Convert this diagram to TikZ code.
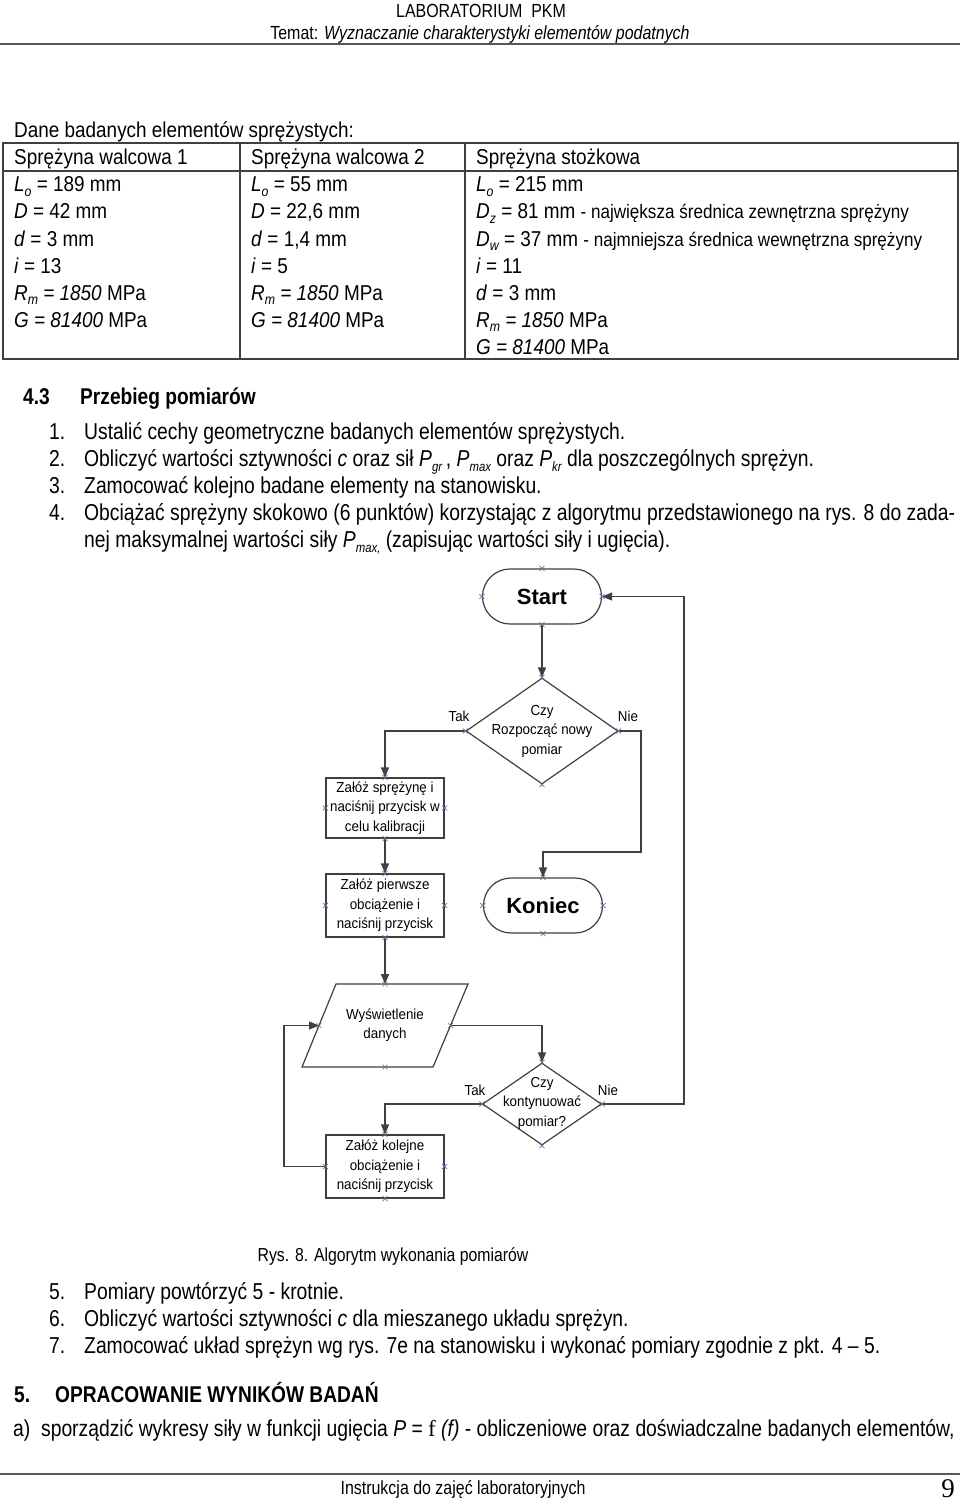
\documentclass[tikz,border=0pt]{standalone}
\usepackage{fontspec}
\setmainfont{Liberation Sans}
\newfontfamily\nar[FakeStretch=0.84]{Liberation Sans}
\newfontfamily\tabf[FakeStretch=0.88]{Liberation Sans}
\newfontfamily\fcf[FakeStretch=0.92]{Liberation Sans}
\newfontfamily\nine{Liberation Serif}
\usetikzlibrary{shapes.geometric,shapes.misc,arrows.meta,calc}
\definecolor{lc}{HTML}{404040}
\definecolor{xc}{HTML}{6A6AA8}
\newcommand\sbt[1]{\raisebox{-0.22em}{\fontsize{14}{14}\selectfont\itshape #1}}
\newcommand\sbs[1]{\raisebox{-0.22em}{\fontsize{13.5}{13.5}\selectfont\itshape #1}}
\newcommand\smf{\fontsize{19.4}{22}\selectfont}
\begin{document}
\begin{tikzpicture}[x=1pt,y=-1pt,
  T/.style={anchor=base west,inner sep=0pt,font=\tabf\fontsize{21.5}{26}\selectfont},
  L/.style={anchor=base west,inner sep=0pt,font=\nar\fontsize{23}{27}\selectfont},
  B/.style={anchor=base west,inner sep=0pt,font=\nar\bfseries\fontsize{22.8}{27}\selectfont},
  H/.style={anchor=base,inner sep=0pt,font=\nar\fontsize{19}{22}\selectfont},
  ln/.style={draw=lc,line width=1.3pt},
  fl/.style={draw=lc,line width=1.2pt},
  arr/.style={fl,-{Triangle[length=10pt,width=8pt]}},
  fct/.style={inner sep=0pt,align=center,font=\fcf\fontsize{14.5}{19.5}\selectfont},
  term/.style={fl,rounded rectangle,minimum width=119pt,minimum height=55pt,inner sep=0pt,font=\bfseries\fontsize{22}{26}\selectfont},
  box/.style={fl,rectangle,minimum width=118pt,inner sep=0pt,fct},
  dia/.style={fl,diamond,inner sep=0pt},
  xm/.pic={\draw[xc,line width=0.6pt] (-2.5,-2.5)--(2.5,2.5) (-2.5,2.5)--(2.5,-2.5);}
]
\useasboundingbox (0,0) rectangle (960,1500);
\fill[white] (0,0) rectangle (960,1500);

% header
\node[H] (h1) at (481,17) {LABORATORIUM\ \ PKM};
\node[H] (h2) at (480,39) {Temat: \textit{Wyznaczanie charakterystyki elementów podatnych}};
\draw[draw=gray!70!black,line width=2pt] (0,44) -- (960,44);

% table
\node[T] (dane) at (14,137) {Dane badanych elementów sprężystych:};
\draw[ln] (3,143) rectangle (958,359);
\draw[ln] (3,171) -- (958,171);
\draw[ln] (240,143) -- (240,359);
\draw[ln] (465,143) -- (465,359);

\node[T] (c1h) at (14,164) {Sprężyna walcowa 1};
\node[T] (c1a) at (14,191.5) {\textit{L}\sbt{o} = 189 mm};
\node[T] (c1b) at (14,218.7) {\textit{D} = 42 mm};
\node[T] (c1c) at (14,246) {\textit{d} = 3 mm};
\node[T] (c1d) at (14,273) {\textit{i} = 13};
\node[T] (c1e) at (14,300) {\textit{R}\sbt{m}\textit{ = 1850} MPa};
\node[T] (c1f) at (14,327) {\textit{G = 81400} MPa};

\node[T] (c2h) at (251,164) {Sprężyna walcowa 2};
\node[T] (c2a) at (251,191.5) {\textit{L}\sbt{o} = 55 mm};
\node[T] (c2b) at (251,218.7) {\textit{D} = 22,6 mm};
\node[T] (c2c) at (251,246) {\textit{d} = 1,4 mm};
\node[T] (c2d) at (251,273) {\textit{i} = 5};
\node[T] (c2e) at (251,300) {\textit{R}\sbt{m}\textit{ = 1850} MPa};
\node[T] (c2f) at (251,327) {\textit{G = 81400} MPa};

\node[T] (c3h) at (476,164) {Sprężyna stożkowa};
\node[T] (c3a) at (476,191.5) {\textit{L}\sbt{o} = 215 mm};
\node[T] (c3b) at (476,218.7) {\textit{D}\sbt{z} = 81 mm {\smf - największa średnica zewnętrzna sprężyny}};
\node[T] (c3c) at (476,246) {\textit{D}\sbt{w} = 37 mm {\smf - najmniejsza średnica wewnętrzna sprężyny}};
\node[T] (c3d) at (476,273) {\textit{i} = 11};
\node[T] (c3e) at (476,300) {\textit{d} = 3 mm};
\node[T] (c3f) at (476,327) {\textit{R}\sbt{m}\textit{ = 1850} MPa};
\node[T] (c3g) at (476,354) {\textit{G = 81400} MPa};

% section 4.3
\node[B] (s43n) at (23,404) {4.3};
\node[B] (s43) at (80,404) {Przebieg pomiarów};
\node[L] (n1) at (49,439) {1.};
\node[L] (t1) at (84,439) {Ustalić cechy geometryczne badanych elementów sprężystych.};
\node[L] (n2) at (49,466) {2.};
\node[L] (t2) at (84,466) {Obliczyć wartości sztywności \textit{c} oraz sił \textit{P}\sbs{gr}\,, \textit{P}\sbs{max} oraz \textit{P}\sbs{kr} dla poszczególnych sprężyn.};
\node[L] (n3) at (49,493) {3.};
\node[L] (t3) at (84,493) {Zamocować kolejno badane elementy na stanowisku.};
\node[L] (n4) at (49,520) {4.};
\node[L] (t4) at (84,520) {\makebox[871pt][s]{Obciążać sprężyny skokowo (6 punktów) korzystając z algorytmu przedstawionego na rys. 8 do zada-}};
\node[L] (t4b) at (84,547) {nej maksymalnej wartości siły \textit{P}\sbs{max,} (zapisując wartości siły i ugięcia).};

% flowchart
\node[term] (start) at (542,596.5) {Start};
\node[dia,minimum width=152pt,minimum height=106pt] (d1) at (542,731) {};
\node[fct] (d1t) at (542,731) {Czy\\Rozpocząć nowy\\pomiar};
\node[box,minimum height=60pt] (b1) at (385,808) {Załóż sprężynę i\\naciśnij przycisk w\\celu kalibracji};
\node[box,minimum height=63pt] (b2) at (385,905.5) {Załóż pierwsze\\obciążenie i\\naciśnij przycisk};
\node[term] (kon) at (543,905.5) {Koniec};
\node[fct] (par) at (385,1025) {Wyświetlenie\\danych};
\draw[fl] (336,984) -- (468,984) -- (433,1067) -- (302,1067) -- cycle;
\coordinate (parT) at (385,984);
\coordinate (parB) at (385,1067);
\coordinate (parL) at (319,1025.5);
\coordinate (parR) at (450.5,1025.5);
\node[dia,minimum width=119pt,minimum height=82pt] (d2) at (542,1104) {};
\node[fct] (d2t) at (542,1103) {Czy\\kontynuować\\pomiar?};
\node[box,minimum height=63pt] (b3) at (385,1166.5) {Załóż kolejne\\obciążenie i\\naciśnij przycisk};

\node[fct] (tak1) at (459,716) {Tak};
\node[fct] (nie1) at (628,716) {Nie};
\node[fct] (tak2) at (475,1090) {Tak};
\node[fct] (nie2) at (608,1090) {Nie};

\coordinate (k1) at (641,852);
\coordinate (lp) at (284,1166.5);
\coordinate (rp) at (684,1104);

\draw[arr] (start.south) -- (d1.north);
\draw[arr] (d1.west) -| (b1.north);
\draw[arr] (b1.south) -- (b2.north);
\draw[arr] (d1.east) -| (k1) -| (kon.north);
\draw[arr] (b2.south) -- (parT);
\draw[arr] (parR) -| (d2.north);
\draw[arr] (d2.west) -| (b3.north);
\draw[arr] (b3.west) -- (lp) |- (parL);
\draw[arr] (d2.east) -- (rp) |- (start.east);

\foreach \p in {start.north,start.south,start.east,start.west,
  d1.north,d1.south,d1.east,d1.west,
  b1.north,b1.south,b1.east,b1.west,
  b2.north,b2.south,b2.east,b2.west,
  kon.north,kon.south,kon.east,kon.west,
  parT,parB,parL,parR,
  d2.north,d2.south,d2.east,d2.west,
  b3.north,b3.south,b3.east,b3.west}
  \pic at (\p) {xm};

\node[H,font=\nar\fontsize{18.8}{22}\selectfont] (cap) at (393,1261) {Rys. 8. Algorytm wykonania pomiarów};

\node[L] (n5) at (49,1299) {5.};
\node[L] (t5) at (84,1299) {Pomiary powtórzyć 5 - krotnie.};
\node[L] (n6) at (49,1326) {6.};
\node[L] (t6) at (84,1326) {Obliczyć wartości sztywności \textit{c} dla mieszanego układu sprężyn.};
\node[L] (n7) at (49,1353) {7.};
\node[L] (t7) at (84,1353) {Zamocować układ sprężyn wg rys. 7e na stanowisku i wykonać pomiary zgodnie z pkt. 4 – 5.};

\node[B] (s5n) at (14,1402) {5.};
\node[B] (s5) at (55,1402) {OPRACOWANIE WYNIKÓW BADAŃ};
\node[L] (a1) at (13,1436) {a)\ \ sporządzić wykresy siły w funkcji ugięcia \textit{P} = {\nine f} \textit{(f)} - obliczeniowe oraz doświadczalne badanych elementów,};

\draw[draw=gray!70!black,line width=1.5pt] (0,1474) -- (960,1474);
\node[H] (foot) at (463,1494) {Instrukcja do zajęć laboratoryjnych};
\node[anchor=base,inner sep=0pt,font=\nine\fontsize{27}{30}\selectfont] (pg) at (948,1497) {9};
\end{tikzpicture}
\end{document}
